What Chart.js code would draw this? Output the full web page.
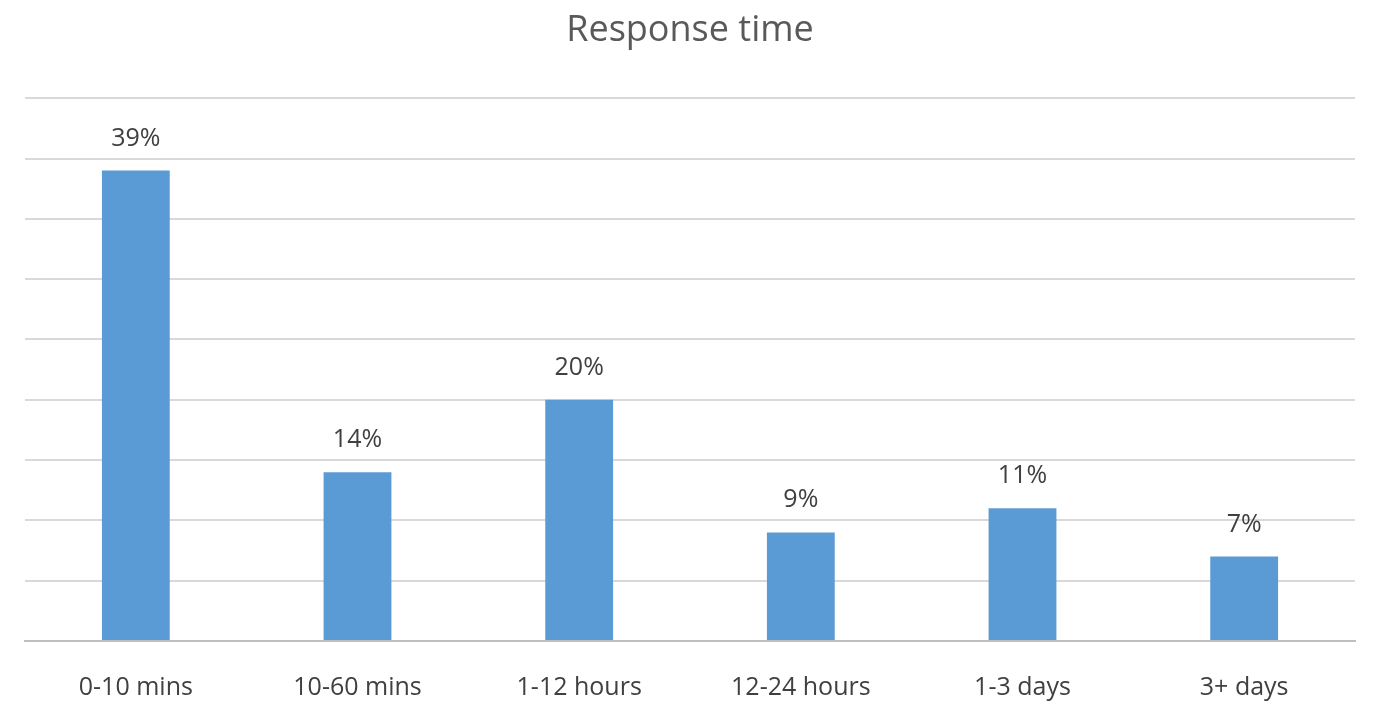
<!DOCTYPE html>
<html>
<head>
<meta charset="utf-8">
<title>Response time</title>
<script src="https://cdn.jsdelivr.net/npm/chart.js@4.4.0/dist/chart.umd.min.js"></script>
<style>
    html, body {
        margin: 0;
        padding: 0;
        background: #ffffff;
    }
    #wrap {
        width: 1378px;
        height: 701px;
    }
</style>
</head>
<body>
<div id="wrap">
    <canvas id="chart-response"></canvas>
</div>
<script>

const categories = [
    '0-10 mins',
    '10-60 mins',
    '1-12 hours',
    '12-24 hours',
    '1-3 days',
    '3+ days'
];

const responseShare = [39, 14, 20, 9, 11, 7];

const yTicks = [0, 5, 10, 15, 20, 25, 30, 35, 40, 45];


// draws the "39%" labels over each bar
const barLabels = {
    id: 'barLabels',
    afterDatasetsDraw(chart) {
        const ctx = chart.ctx;
        const meta = chart.getDatasetMeta(0);
        ctx.save();
        ctx.fillStyle = '#404040';
        ctx.font = '25px "Open Sans"';
        ctx.textAlign = 'center';
        ctx.textBaseline = 'alphabetic';
        meta.data.forEach((bar, i) => {
            ctx.fillText(responseShare[i] + '%', bar.x, bar.y - 25);
        });
        ctx.restore();
    }
};


const dataResponse = {
    labels: categories,
    datasets: [{
        label: 'Response time',
        data: responseShare,
        backgroundColor: '#5b9bd5',
        barPercentage: 0.6,
        categoryPercentage: 0.51
    }]
};


const configResponse = new Chart(
    document.getElementById('chart-response'), {
    type: 'bar',
    data: dataResponse,
    plugins: [barLabels],
    options: {
        responsive: true,
        maintainAspectRatio: false,
        animation: false,
        layout: {
            padding: { left: 25, right: 23, top: 0, bottom: -34 }
        },
        plugins: {
            legend: {
                display: false
            },
            tooltip: {
                enabled: false
            },
            title: {
                display: true,
                text: 'Response time',
                color: '#595959',
                font: { family: 'Open Sans', size: 36, weight: 'normal' },
                padding: { top: 9, bottom: 46 }
            }
        },
        scales: {
            x: {
                grid: {
                    display: false,
                    drawTicks: false
                },
                border: {
                    display: true,
                    color: '#bfbfbf',
                    width: 2
                },
                ticks: {
                    color: '#404040',
                    font: { family: 'Open Sans', size: 25 },
                    padding: 32,
                    maxRotation: 0
                }
            },
            y: {
                min: yTicks[0],
                max: yTicks[yTicks.length - 1],
                afterBuildTicks(scale) {
                    scale.ticks = yTicks.map(v => ({ value: v }));
                },
                grid: {
                    color: '#d9d9d9',
                    lineWidth: 2,
                    drawTicks: false
                },
                border: {
                    display: false
                },
                ticks: {
                    display: false
                }
            }
        }
    }
});

</script>
</body>
</html>
